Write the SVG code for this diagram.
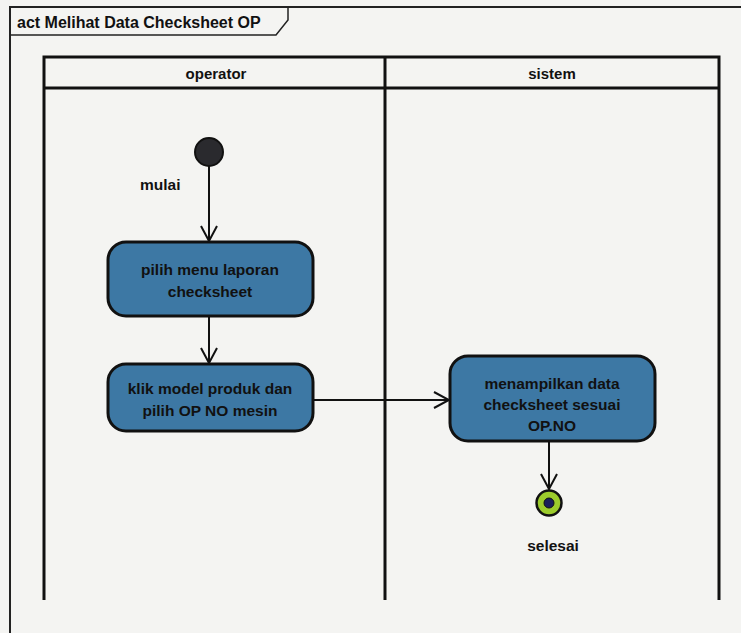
<svg xmlns="http://www.w3.org/2000/svg" width="741" height="633" viewBox="0 0 741 633">
  <defs>
    <style>
      .txt { font-family: "Liberation Sans", Arial, sans-serif; font-weight: bold; fill: #111; }
      .lane { stroke: #111; stroke-width: 3; fill: none; }
      .action { fill: #3d78a4; stroke: #111; stroke-width: 3; }
      .flow { stroke: #111; stroke-width: 2; fill: none; marker-end: url(#open); }
    </style>
    <marker id="open" viewBox="0 0 18 18" refX="16" refY="9" markerWidth="18" markerHeight="18" markerUnits="userSpaceOnUse" orient="auto">
      <path d="M1,1 L16,9 L1,17" fill="none" stroke="#111" stroke-width="2"/>
    </marker>
  </defs>

  <rect width="741" height="633" fill="#f4f4f2"/>

  <!-- activity frame -->
  <g id="frame">
    <path d="M10,633 L10,7 L741,7" fill="none" stroke="#222" stroke-width="2"/>
    <path d="M10,35 L276,35 L288,20 L288,7" fill="none" stroke="#222" stroke-width="1.5"/>
    <text class="txt" x="17" y="28" font-size="16">act Melihat Data Checksheet OP</text>
  </g>

  <!-- swimlanes -->
  <g id="lanes">
    <path class="lane" d="M44,600 L44,57 L719,57 L719,600"/>
    <line class="lane" x1="385" y1="57" x2="385" y2="600"/>
    <line class="lane" x1="44" y1="88" x2="719" y2="88"/>
    <text class="txt" x="216" y="79" font-size="15" text-anchor="middle">operator</text>
    <text class="txt" x="552" y="79" font-size="15" text-anchor="middle">sistem</text>
  </g>

  <!-- connectors -->
  <g id="connectors">
    <line class="flow" x1="209" y1="166" x2="209" y2="241"/>
    <line class="flow" x1="209" y1="317" x2="209" y2="363"/>
    <line class="flow" x1="314" y1="400" x2="449" y2="400"/>
    <line class="flow" x1="549" y1="441" x2="549" y2="489"/>
  </g>

  <g id="start">
    <circle cx="209" cy="152" r="14" fill="#2a2a2e" stroke="#111" stroke-width="2"/>
    <text class="txt" x="140" y="190" font-size="15.5">mulai</text>
  </g>

  <g id="pilih-menu">
    <rect class="action" x="108" y="242" width="205" height="74" rx="18"/>
    <text class="txt" x="210" y="275" font-size="15.5" text-anchor="middle">pilih menu laporan</text>
    <text class="txt" x="210" y="297" font-size="15.5" text-anchor="middle">checksheet</text>
  </g>

  <g id="klik-model">
    <rect class="action" x="108" y="364" width="205" height="67" rx="18"/>
    <text class="txt" x="210" y="394" font-size="15.5" text-anchor="middle">klik model produk dan</text>
    <text class="txt" x="210" y="416" font-size="15.5" text-anchor="middle">pilih OP NO mesin</text>
  </g>

  <g id="tampil-data">
    <rect class="action" x="450" y="356" width="205" height="85" rx="18"/>
    <text class="txt" x="552" y="389" font-size="15.5" text-anchor="middle">menampilkan data</text>
    <text class="txt" x="552" y="410" font-size="15.5" text-anchor="middle">checksheet sesuai</text>
    <text class="txt" x="552" y="431" font-size="15.5" text-anchor="middle">OP.NO</text>
  </g>

  <g id="end">
    <circle cx="549" cy="503" r="12.5" fill="#9ccc2c" stroke="#111" stroke-width="2.5"/>
    <circle cx="549" cy="503" r="5" fill="#1a1f5a" stroke="#111" stroke-width="1"/>
    <text class="txt" x="553" y="551" font-size="15.5" text-anchor="middle">selesai</text>
  </g>
</svg>
